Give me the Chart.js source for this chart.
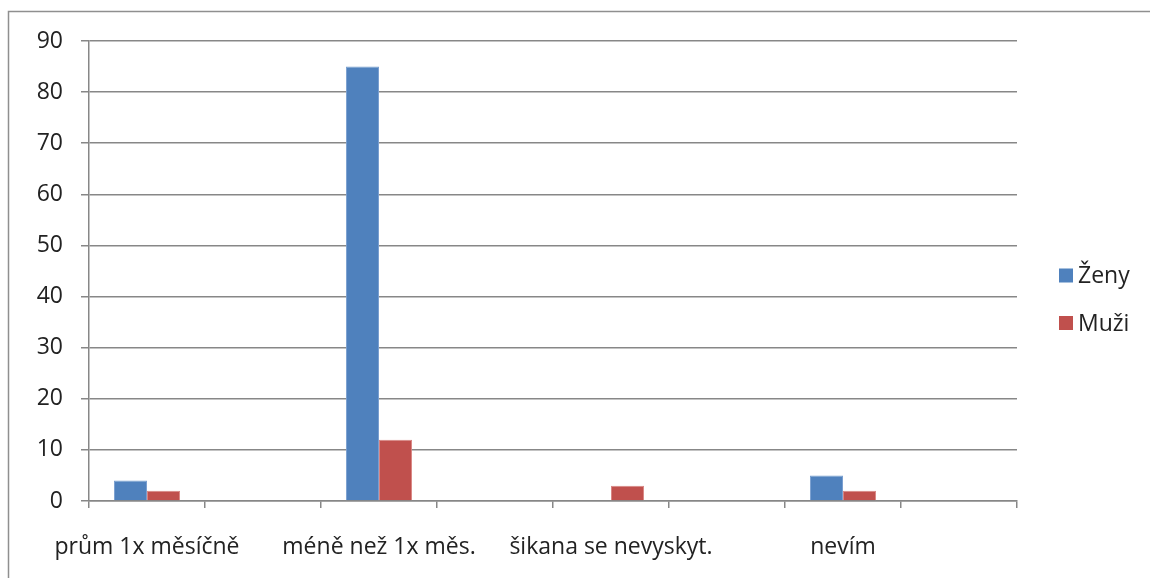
<!DOCTYPE html>
<html>
<head>
<meta charset="utf-8">
<script src="https://cdn.jsdelivr.net/npm/chart.js@4"></script>
<style>
html,body{margin:0;padding:0;background:#fff;}
#wrap{width:1150px;height:578px;position:relative;}
</style>
</head>
<body>
<div id="wrap"><canvas id="c" width="1150" height="578"></canvas></div>
<script>
// Categories (empty slots are blank Excel categories)
const categories = ['prům 1x měsíčně', '', 'méně než 1x měs.', '', 'šikana se nevyskyt.', '', 'nevím', ''];
const seriesNames = ['Ženy', 'Muži'];
const zeny = [4, null, 85, null, 0, null, 5, null];
const muzi = [2, null, 12, null, 3, null, 2, null];
const yMin = 0, yMax = 90, yStep = 10;

const FONT = '"Open Sans", sans-serif';
const TEXT = '#222222';
const GRID = '#878787';

const frameAndLegend = {
  id: 'frameAndLegend',
  beforeDraw(chart) {
    const ctx = chart.ctx;
    ctx.save();
    ctx.strokeStyle = '#8f8f8f';
    ctx.lineWidth = 1.5;
    ctx.beginPath();
    ctx.moveTo(8.5, 578);
    ctx.lineTo(8.5, 11.5);
    ctx.lineTo(1150, 11.5);
    ctx.stroke();
    ctx.restore();
  },
  afterDraw(chart) {
    const ctx = chart.ctx;
    ctx.save();
    ctx.font = '23px ' + FONT;
    ctx.textBaseline = 'middle';
    ctx.textAlign = 'left';
    const centers = [275.5, 323];
    chart.data.datasets.forEach((ds, i) => {
      const cy = centers[i];
      ctx.fillStyle = ds.backgroundColor;
      ctx.fillRect(1059, cy - 7, 14, 14);
      ctx.fillStyle = TEXT;
      ctx.fillText(ds.label, 1078, cy + 1);
    });
    ctx.restore();
  }
};

new Chart(document.getElementById('c'), {
  type: 'bar',
  data: {
    labels: categories,
    datasets: [
      { label: seriesNames[0], data: zeny, backgroundColor: '#4F81BD', borderColor: '#7A9FD0', borderWidth: 1, borderSkipped: 'bottom' },
      { label: seriesNames[1], data: muzi, backgroundColor: '#C0504D', borderColor: '#D88583', borderWidth: 1, borderSkipped: 'bottom' }
    ]
  },
  options: {
    responsive: false,
    devicePixelRatio: 1,
    animation: false,
    layout: { padding: { top: 41, right: 133, bottom: 0, left: 0 } },
    datasets: { bar: { categoryPercentage: 0.57, barPercentage: 1.0, skipNull: false } },
    plugins: {
      legend: { display: false },
      tooltip: { enabled: false }
    },
    scales: {
      x: {
        afterFit(scale) { scale.height = 77; },
        grid: { display: true, drawOnChartArea: false, drawTicks: true, tickLength: 7, color: GRID, lineWidth: 1.5, offset: true },
        border: { display: true, color: GRID, width: 1.5 },
        ticks: { autoSkip: false, maxRotation: 0, minRotation: 0, padding: 26, color: TEXT, font: { family: FONT, size: 23 } }
      },
      y: {
        min: yMin, max: yMax,
        afterFit(scale) { scale.width = 89; },
        grid: { color: GRID, lineWidth: 1.5, drawTicks: true, tickLength: 8 },
        border: { display: true, color: GRID, width: 1.5 },
        ticks: { stepSize: yStep, padding: 18, color: TEXT, font: { family: FONT, size: 23 } }
      }
    }
  },
  plugins: [frameAndLegend]
});
</script>
</body>
</html>
